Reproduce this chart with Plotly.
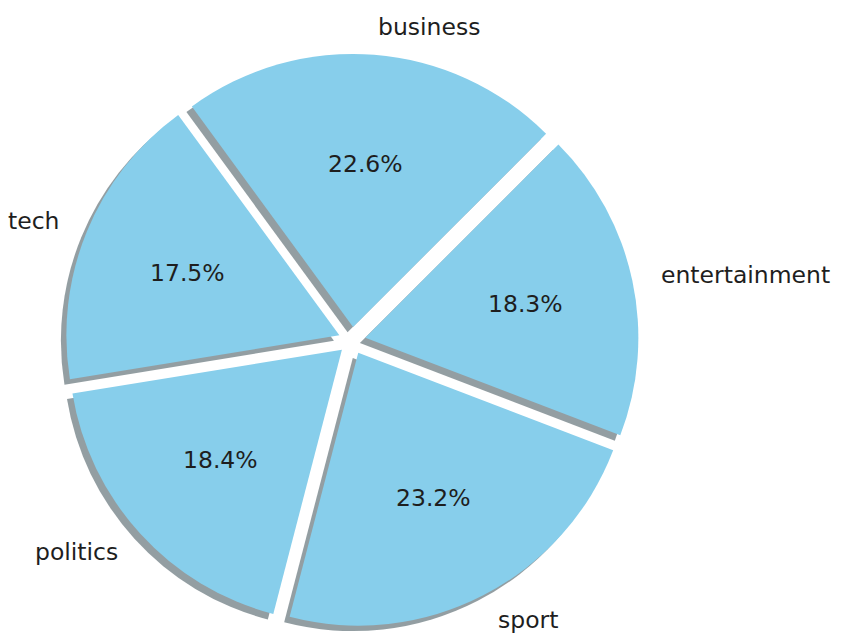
import math
import plotly.graph_objects as go

# ---- data ----
categories = ["business", "tech", "politics", "sport", "entertainment"]
counts = [336, 261, 274, 346, 273]

# ---- style / geometry ----
W, H = 846, 633
PW, PH = W, H                          # plot area size (no margins)
CX, CY, R = 352.0, 340.5, 273.0       # pie centre and radius in pixels (from top-left)
PULL = 0.05                            # explode fraction
START_ANGLE = 45.0                     # matplotlib-like start angle (deg, ccw from 3 o'clock)
SHADOW_OFF = 0.02                      # shadow offset as fraction of radius
LABEL_DIST = 1.1
PCT_DIST = 0.6
FONT = "DejaVu Sans"
FSIZE = 23.5
COLOR = "skyblue"
SHADOW = "rgba(40,62,70,0.5)"
TEXT_COLOR = "#1e1e1e"

half = R * (1 + PULL)


def clamp(v):
    return min(max(v, 0.0), 1.0)


def domain(dx=0.0, dy=0.0):
    cx, cy = CX + dx, CY + dy
    return dict(x=[clamp((cx - half) / PW), clamp((cx + half) / PW)],
                y=[clamp(1 - (cy + half) / PH), clamp(1 - (cy - half) / PH)])


total = sum(counts)
first_share = counts[0] / total * 360.0
rotation = 90.0 - START_ANGLE - first_share  # plotly: clockwise from 12 o'clock

common = dict(labels=categories, values=counts, sort=False,
              direction="counterclockwise", rotation=rotation,
              pull=[PULL] * len(counts), textinfo="none",
              hoverinfo="skip", showlegend=False)

fig = go.Figure()
fig.add_trace(go.Pie(**common, domain=domain(-SHADOW_OFF * R, SHADOW_OFF * R),
                     marker=dict(colors=[SHADOW] * len(counts), line=dict(width=0))))
fig.add_trace(go.Pie(**common, domain=domain(),
                     marker=dict(colors=[COLOR] * len(counts), line=dict(width=0))))

annotations = []
theta = START_ANGLE
for cat, c in zip(categories, counts):
    span = c / total * 360.0
    mid = math.radians(theta + span / 2)
    theta += span
    cosm, sinm = math.cos(mid), math.sin(mid)
    # label outside
    lx = CX + (PULL + LABEL_DIST) * R * cosm
    ly = CY - (PULL + LABEL_DIST) * R * sinm
    annotations.append(dict(x=lx / PW, y=1 - ly / PH, xref="paper", yref="paper",
                            text=cat, showarrow=False,
                            xanchor="left" if cosm > 0 else "right", yanchor="middle",
                            font=dict(family=FONT, size=FSIZE, color=TEXT_COLOR)))
    # percentage inside
    px = CX + (PULL + PCT_DIST) * R * cosm
    py = CY - (PULL + PCT_DIST) * R * sinm
    annotations.append(dict(x=px / PW, y=1 - py / PH, xref="paper", yref="paper",
                            text=f"{c / total * 100:.1f}%", showarrow=False,
                            xanchor="center", yanchor="middle",
                            font=dict(family=FONT, size=FSIZE, color=TEXT_COLOR)))

fig.update_layout(width=W, height=H, margin=dict(l=0, r=0, t=0, b=0),
                  paper_bgcolor="white", plot_bgcolor="white",
                  annotations=annotations)

fig.write_html("out.html")
